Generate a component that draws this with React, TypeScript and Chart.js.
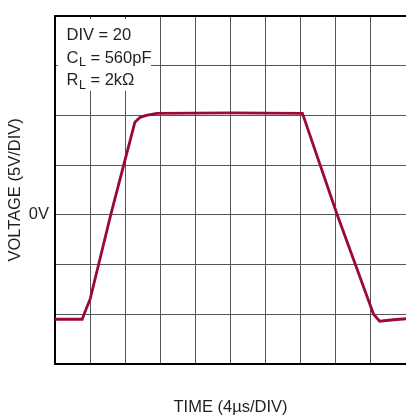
import React, { useEffect, useRef } from "react";
import { Chart, registerables } from "chart.js";

Chart.register(...registerables);

// Time in µs (4 µs/DIV), voltage in V (5 V/DIV)
const TIME_US = [0, 3.1, 3.4, 4.0, 6.35, 9.1, 9.7, 10.4, 11.6, 20, 28.2, 32.1, 36.3, 37.0, 38.6, 40];
const VOLTS = [-10.5, -10.5, -9.8, -8.5, 0, 9.3, 9.8, 10.0, 10.2, 10.25, 10.2, 0.15, -10.0, -10.7, -10.55, -10.45];

const X_MIN = 0;
const X_MAX = 40;
const X_STEP = 4;
const Y_MIN = -15;
const Y_MAX = 20;
const Y_STEP = 5;

const X_TITLE = "TIME (4µs/DIV)";
const Y_TITLE = "VOLTAGE (5V/DIV)";
const ZERO_LABEL = "0V";

const NOTE_MAIN = ["DIV = 20", "C", "R"];
const NOTE_SUB = ["", "L", "L"];
const NOTE_REST = ["", " = 560pF", " = 2kΩ"];

const FONT = '"Liberation Sans", Arial, sans-serif';
const FONT_SIZE = 16.5;
const TEXT_COLOR = "#231f20";
const LINE_COLOR = "#9a0b33";
const GRID_COLOR = "#555555";

const framePlugin = {
  id: "frame",
  afterDatasetsDraw(chart: any) {
    const { ctx, chartArea } = chart;
    const { left, top, right } = chartArea;
    ctx.save();
    // top border
    ctx.strokeStyle = "#000";
    ctx.lineWidth = 2;
    ctx.beginPath();
    ctx.moveTo(left - 1, top);
    ctx.lineTo(right, top);
    ctx.stroke();
    // annotation box
    ctx.fillStyle = "#fff";
    ctx.fillRect(left + 3, top + 3, 93, 72);
    ctx.fillStyle = TEXT_COLOR;
    ctx.textBaseline = "alphabetic";
    ctx.textAlign = "left";
    const baselines = [24.5, 47, 69.5];
    for (let i = 0; i < NOTE_MAIN.length; i++) {
      let x = left + 11.5;
      const y = top + baselines[i];
      ctx.font = `${FONT_SIZE}px ${FONT}`;
      ctx.fillText(NOTE_MAIN[i], x, y);
      x += ctx.measureText(NOTE_MAIN[i]).width;
      if (NOTE_SUB[i]) {
        ctx.font = `12.5px ${FONT}`;
        ctx.fillText(NOTE_SUB[i], x + 0.5, y + 3.5);
        x += ctx.measureText(NOTE_SUB[i]).width + 0.5;
      }
      if (NOTE_REST[i]) {
        ctx.font = `${FONT_SIZE}px ${FONT}`;
        ctx.fillText(NOTE_REST[i], x, y);
      }
    }
    ctx.restore();
  },
};

export default function App() {
  const ref = useRef<HTMLCanvasElement | null>(null);

  useEffect(() => {
    document.body.style.margin = "0";
    if (!ref.current) return;
    const data = TIME_US.map((t, i) => ({ x: t, y: VOLTS[i] }));
    const chart = new Chart(ref.current, {
      type: "line",
      data: {
        datasets: [
          {
            data,
            borderColor: LINE_COLOR,
            borderWidth: 2.8,
            pointRadius: 0,
            tension: 0,
            fill: false,
          },
        ],
      },
      options: {
        animation: false,
        responsive: false,
        maintainAspectRatio: false,
        layout: { padding: { top: 13, right: 0, left: 0, bottom: 0 } },
        plugins: { legend: { display: false }, tooltip: { enabled: false } },
        scales: {
          x: {
            type: "linear",
            min: X_MIN,
            max: X_MAX,
            afterFit: (s: any) => {
              s.height = 53;
            },
            ticks: { display: false, stepSize: X_STEP },
            grid: { color: GRID_COLOR, lineWidth: 1, drawTicks: false },
            border: { display: true, color: "#000", width: 2 },
            title: {
              display: true,
              text: X_TITLE,
              color: TEXT_COLOR,
              font: { family: FONT, size: FONT_SIZE },
              padding: { top: 0, bottom: 0 },
            },
          },
          y: {
            type: "linear",
            min: Y_MIN,
            max: Y_MAX,
            afterFit: (s: any) => {
              s.width = 55;
            },
            ticks: {
              stepSize: Y_STEP,
              padding: 6,
              color: TEXT_COLOR,
              font: { family: FONT, size: FONT_SIZE },
              callback: (v: any) => (Number(v) === 0 ? ZERO_LABEL : ""),
            },
            grid: { color: GRID_COLOR, lineWidth: 1, drawTicks: false },
            border: { display: true, color: "#000", width: 2 },
            title: {
              display: true,
              text: Y_TITLE,
              color: TEXT_COLOR,
              font: { family: FONT, size: FONT_SIZE },
              padding: { top: 6, bottom: 0 },
            },
          },
        },
      },
      plugins: [framePlugin],
    });
    return () => chart.destroy();
  }, []);

  return (
    <div style={{ position: "absolute", left: 0, top: 0, width: 406, height: 417, background: "#fff" }}>
      <canvas ref={ref} width={406} height={417} style={{ display: "block" }} />
    </div>
  );
}
